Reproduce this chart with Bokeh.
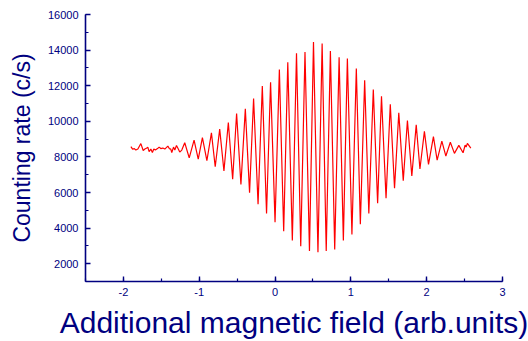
from bokeh.plotting import figure
from bokeh.models import Range1d, SingleIntervalTicker, PrintfTickFormatter
from bokeh.embed import file_html
from bokeh.resources import INLINE

# noisy flat section (left)
x_noise = [-1.901, -1.879, -1.855, -1.836, -1.809, -1.770, -1.739, -1.717, -1.691, -1.678,
           -1.661, -1.638, -1.618, -1.599, -1.579, -1.550, -1.529, -1.507, -1.480, -1.454,
           -1.434, -1.414, -1.395, -1.375, -1.362, -1.339, -1.322, -1.300, -1.276, -1.257, -1.230]
y_noise = [8580, 8440, 8468, 8384, 8440, 8748, 8356, 8440, 8496, 8552,
           8300, 8440, 8244, 8440, 8384, 8468, 8552, 8468, 8496, 8440,
           8524, 8608, 8468, 8440, 8244, 8552, 8384, 8636, 8440, 8272, 8384]

# oscillating section: successive peaks and troughs
x_osc = [-1.191, -1.132, -1.068, -1.013, -0.958, -0.899, -0.839, -0.789, -0.730, -0.674,
         -0.616, -0.559, -0.507, -0.450, -0.392, -0.336, -0.283, -0.224, -0.168, -0.112,
         -0.059, 0.000, 0.057, 0.114, 0.168, 0.228, 0.283, 0.339, 0.395, 0.454,
         0.507, 0.566, 0.621, 0.675, 0.730, 0.787, 0.845, 0.901, 0.954, 1.014,
         1.072, 1.125, 1.182, 1.237, 1.296, 1.353, 1.404, 1.464, 1.520, 1.576,
         1.632, 1.691, 1.746, 1.804, 1.862, 1.911, 1.970, 2.024, 2.089, 2.138,
         2.200, 2.253, 2.312, 2.366, 2.424, 2.480, 2.507, 2.520, 2.537, 2.582]
y_osc = [8793, 7947, 8944, 7880, 9084, 7785, 9353, 7449, 9560, 7208,
         9935, 6749, 10439, 6452, 10697, 5993, 11279, 5343, 11985, 4817,
         12192, 4335, 12903, 3820, 13312, 3305, 13827, 2980, 13889, 2717,
         14449, 2644, 14365, 2711, 13945, 2795, 13603, 3299, 13525, 3641,
         12959, 4212, 12304, 4828, 11783, 5399, 11408, 5679, 10960, 6239,
         10484, 6665, 10036, 6928, 9801, 7320, 9431, 7583, 9140, 7824,
         8888, 8048, 8821, 8199, 8647, 8233, 8664, 8552, 8759, 8496]

x_label = "Additional magnetic field (arb.units)"
y_label = "Counting rate (c/s)"

NAVY = "#000080"
FONT = "Liberation Sans"

p = figure(width=528, height=341, output_backend="svg", toolbar_location=None,
           x_range=Range1d(-2.5, 3), y_range=Range1d(1000, 16000),
           min_border_left=85, min_border_right=26, min_border_top=14, min_border_bottom=59)

p.line(x_noise + x_osc, y_noise + y_osc, line_color="#ff0000", line_width=1.2)

p.outline_line_color = None
p.grid.visible = False
p.background_fill_color = "white"
p.border_fill_color = "white"

p.xaxis.ticker = SingleIntervalTicker(interval=1, num_minor_ticks=2)
p.yaxis.ticker = SingleIntervalTicker(interval=2000, num_minor_ticks=2)
p.xaxis.formatter = PrintfTickFormatter(format="%d")
p.yaxis.formatter = PrintfTickFormatter(format="%d")

for ax in (p.xaxis, p.yaxis):
    ax.axis_line_color = NAVY
    ax.axis_line_width = 1.6
    ax.major_tick_line_color = NAVY
    ax.minor_tick_line_color = NAVY
    ax.major_tick_line_width = 1.4
    ax.minor_tick_line_width = 1.2
    ax.major_tick_in = 5
    ax.major_tick_out = 0
    ax.minor_tick_in = 3
    ax.minor_tick_out = 0
    ax.major_label_text_color = NAVY
    ax.major_label_text_font = FONT
    ax.major_label_text_font_size = "11px"
    ax.axis_label_text_color = NAVY
    ax.axis_label_text_font = FONT
    ax.axis_label_text_font_style = "normal"

p.xaxis.axis_label = x_label
p.yaxis.axis_label = y_label
p.xaxis.axis_label_text_font_size = "30px"
p.yaxis.axis_label_text_font_size = "23px"
p.xaxis.major_label_standoff = 6
p.yaxis.major_label_standoff = 7
p.xaxis.axis_label_standoff = 7
p.yaxis.axis_label_standoff = 10

open("out.html", "w").write(file_html(p, INLINE))
